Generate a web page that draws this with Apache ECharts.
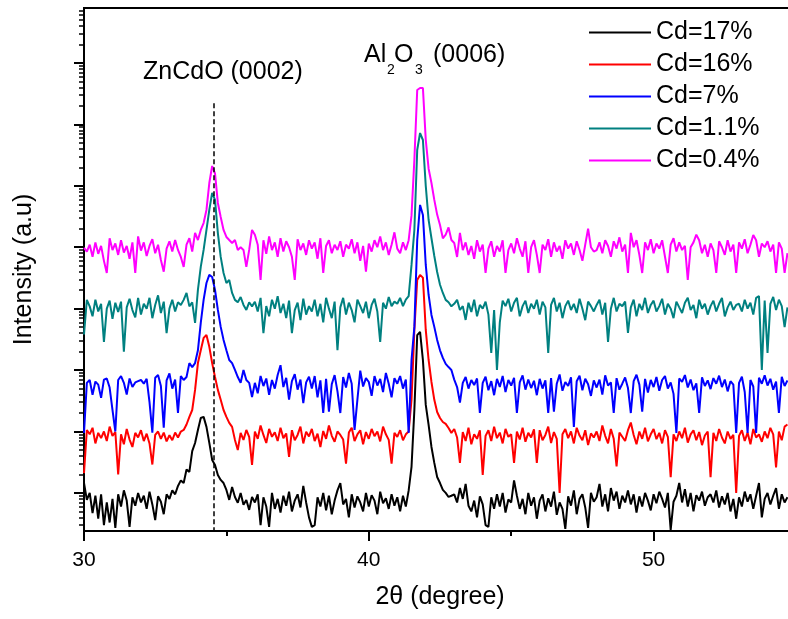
<!DOCTYPE html>
<html>
<head>
<meta charset="utf-8">
<script src="https://cdn.jsdelivr.net/npm/echarts@6/dist/echarts.min.js"></script>
<style>html,body{margin:0;padding:0;background:#fff}#chart{width:788px;height:619px}</style>
</head>
<body>
<div id="chart"></div>
<script>
// 2-theta sampling: 30.0 .. 54.7 deg, step 0.1 deg
const thetaStart = 30.0;
const thetaStep = 0.1;

const seriesNames = ['Cd=17%', 'Cd=16%', 'Cd=7%', 'Cd=1.1%', 'Cd=0.4%'];
const seriesColors = ['#000000', '#ff0000', '#0000ff', '#008080', '#ff00ff'];

// Intensity (a.u.), one row per degree
const cd17 = [
  145, 77, 100, 47, 90, 38, 95, 30, 70, 33,
  80, 27, 95, 60, 110, 75, 28, 85, 62, 100,
  70, 90, 55, 105, 65, 36, 88, 72, 45, 95,
  80, 110, 95, 130, 160, 145, 240, 220, 480, 650,
  1060, 1660, 1730, 1190, 652, 345, 286, 196, 163, 145,
  112, 77, 125, 86, 69, 100, 64, 77, 53, 86,
  70, 95, 30, 85, 60, 28, 100, 55, 80, 48,
  90, 62, 105, 50, 75, 95, 58, 130, 70, 40,
  28, 30, 85, 60, 100, 52, 90, 45, 75, 110,
  145, 65, 80, 40, 95, 58, 88, 70, 50, 100,
  60, 92, 75, 45, 105, 68, 82, 55, 95, 62,
  85, 50, 90, 60, 110, 265, 2240, 37000, 41800, 14600,
  2710, 1280, 560, 308, 182, 145, 112, 100, 86, 90,
  95, 70, 120, 80, 140, 62, 50, 75, 40, 88,
  65, 30, 28, 85, 55, 95, 60, 100, 48, 78,
  70, 160, 90, 55, 80, 45, 100, 62, 85, 38,
  75, 95, 50, 82, 60, 105, 44, 70, 55, 26,
  88, 62, 110, 45, 80, 95, 58, 27, 100, 72,
  85, 140, 60, 95, 50, 120, 75, 105, 55, 90,
  70, 110, 65, 95, 48, 88, 60, 100, 75, 52,
  95, 68, 105, 80, 58, 100, 25, 72, 90, 145,
  70, 115, 60, 100, 50, 92, 75, 105, 62, 85,
  95, 70, 110, 58, 88, 65, 100, 50, 80, 38,
  85, 60, 105, 72, 95, 55, 90, 145, 40, 80,
  100, 65, 90, 120, 55, 95, 70, 85
];

const cd16 = [
  210, 1060, 900, 1150, 640, 950, 780, 1000, 700, 1200,
  850, 980, 200, 900, 620, 1100, 740, 560, 950, 800,
  1050, 700, 920, 640, 290, 880, 1000, 760, 960, 690,
  870, 720, 960, 800, 1000, 1060, 1300, 1730, 2240, 4760,
  13000, 21000, 33400, 37300, 23900, 13000, 7700, 4760, 3280, 2240,
  1730, 1380, 1190, 730, 500, 950, 730, 1060, 815, 286,
  1000, 760, 1250, 880, 650, 1100, 820, 970, 700, 1150,
  780, 930, 385, 1050, 720, 880, 1200, 640, 990, 830,
  1100, 700, 920, 560, 1020, 760, 1250, 850, 680, 1000,
  880, 740, 300, 960, 1150, 700, 900, 1050, 620, 980,
  760, 1100, 840, 1000, 690, 1200, 900, 730, 300, 950,
  820, 1050, 720, 900, 1000, 3300, 45000, 293000, 354000, 320000,
  45000, 14600, 6400, 3280, 2080, 1660, 1430, 1330, 1140, 950,
  1100, 800, 308, 980, 700, 1150, 620, 900, 760, 1050,
  196, 850, 1050, 700, 1200, 780, 960, 640, 1100, 820,
  900, 308, 1000, 740, 1150, 680, 950, 800, 1080, 308,
  1050, 720, 880, 1200, 650, 980, 760, 100, 900, 1100,
  780, 1000, 640, 1150, 860, 720, 1050, 600, 930, 800,
  1000, 700, 1250, 850, 640, 1100, 760, 270, 960, 820,
  700, 1050, 1400, 880, 620, 1000, 760, 1150, 690, 900,
  1100, 750, 950, 640, 1050, 820, 180, 900, 700, 1000,
  780, 1150, 660, 900, 1050, 720, 980, 600, 860, 1000,
  180, 950, 700, 1100, 800, 640, 1000, 760, 880, 100,
  850, 1050, 700, 960, 620, 1100, 800, 900, 680, 1000,
  780, 1150, 900, 260, 1000, 720, 1200, 1300
];

const cd7 = [
  950, 6200, 6900, 3950, 6500, 5800, 3530, 7000, 7300, 5200,
  2240, 1000, 6900, 8000, 6200, 4000, 7300, 5300, 6300, 6600,
  6900, 6000, 7200, 3000, 960, 7500, 8300, 5500, 1150, 6800,
  8800, 5000, 7000, 2000, 8000, 6900, 7700, 13000, 11200, 13000,
  21000, 58500, 139000, 262000, 354000, 328000, 202000, 95300, 50500, 31000,
  21000, 14600, 13000, 10050, 7700, 6200, 10050, 6900, 6200, 3650,
  6200, 4200, 8000, 5500, 7300, 3950, 6900, 5000, 8300, 12000,
  5300, 7500, 3300, 6600, 8600, 4800, 7000, 2900, 6300, 7800,
  5000, 8000, 3600, 6800, 2000, 7200, 2100, 5900, 8300, 4500,
  2000, 7700, 5200, 9000, 6000, 1060, 3300, 9800, 5400, 7400,
  6400, 3800, 8000, 5600, 7200, 4400, 9000, 6000, 3600, 7400,
  6000, 8000, 5000, 7000, 950, 14600, 50500, 1310000, 4880000, 3360000,
  515000, 167000, 79000, 50500, 31000, 21000, 15800, 12600, 11200, 10050,
  7000, 5300, 2950, 6200, 7700, 5000, 6900, 5700, 7300, 2000,
  6200, 7800, 4700, 6600, 3900, 7200, 5300, 8000, 4400, 6900,
  5600, 7500, 2000, 6300, 8200, 4800, 7000, 5100, 6700, 3900,
  7200, 5000, 6800, 2000, 7400, 2100, 6000, 8500, 4600, 6400,
  5500, 7600, 1190, 6600, 8100, 4700, 7200, 5900, 3800, 6800,
  5200, 7000, 4000, 8200, 5600, 6300, 2000, 7400, 4800, 6000,
  7600, 5100, 2000, 6600, 8400, 5800, 2100, 7200, 4300, 6900,
  5300, 7700, 4600, 6900, 8000, 5000, 6300, 4100, 950, 7300,
  6400, 8300, 5200, 7000, 4700, 6100, 2000, 7600, 5500, 6800,
  4900, 7400, 6000, 8100, 5300, 7000, 4500, 6600, 5800, 950,
  6200, 7800, 4400, 950, 6900, 5400, 950, 7500, 6000, 8200,
  5600, 7200, 4800, 6500, 2000, 7800, 5500, 6800
];

const cd1p1 = [
  3.8e4, 1.39e5, 1.09e5, 7.5e4, 1.4e5, 9.0e4, 1.2e5, 2.87e4, 1.0e5, 1.35e5,
  6.8e4, 1.25e5, 8.8e4, 1.3e5, 2.0e4, 1.05e5, 1.45e5, 9.5e4, 7.2e4, 1.5e5,
  8.0e4, 1.2e5, 1.0e5, 1.5e5, 7.0e4, 1.15e5, 1.65e5, 8.5e4, 1.3e5, 4.0e4,
  1.0e5, 1.4e5, 9.0e4, 1.27e5, 1.15e5, 1.39e5, 1.8e5, 1.09e5, 1.27e5, 5.85e4,
  2.02e5, 4.78e5, 9.03e5, 1.91e6, 4.05e6, 7.65e6, 5.89e6, 1.7e6, 6.95e5, 3.81e5,
  2.62e5, 2.93e5, 1.8e5, 1.39e5, 1.27e5, 1.55e5, 1.15e5, 9.53e4, 1.27e5, 1.09e5,
  1.3e5, 9.0e4, 1.5e5, 4.0e4, 1.1e5, 7.5e4, 1.4e5, 1.0e5, 1.6e5, 8.5e4,
  1.2e5, 7.0e4, 1.35e5, 4.0e4, 9.5e4, 1.25e5, 6.5e4, 1.45e5, 8.0e4, 1.1e5,
  9.0e4, 1.4e5, 7.5e4, 1.2e5, 6.0e4, 1.5e5, 1.0e5, 7.0e4, 1.3e5, 2.1e4,
  1.05e5, 1.5e5, 8.0e4, 1.25e5, 9.5e4, 6.0e4, 1.4e5, 1.1e5, 8.5e4, 1.3e5,
  7.0e4, 1.15e5, 1.45e5, 9.0e4, 2.87e4, 1.25e5, 1.0e5, 1.55e5, 1.1e5, 1.3e5,
  1.2e5, 1.5e5, 1.1e5, 1.4e5, 1.6e5, 5.15e5, 1.91e6, 3.83e7, 7.24e7, 5.57e7,
  1.0e7, 2.78e6, 1.4e6, 7.2e5, 3.95e5, 2.45e5, 1.8e5, 1.39e5, 1.27e5, 1.09e5,
  1.2e5, 1.39e5, 9.5e4, 1.1e5, 6.55e4, 1.25e5, 8.8e4, 1.4e5, 7.5e4, 1.15e5,
  1.0e5, 1.3e5, 8.0e4, 1.9e4, 9.5e4, 1.005e4, 6.0e4, 1.35e5, 1.1e5, 1.45e5,
  9.0e4, 1.25e5, 1.5e5, 7.5e4, 1.1e5, 1.35e5, 8.5e4, 1.2e5, 1.0e5, 1.4e5,
  8.0e4, 1.3e5, 1.05e5, 1.9e4, 1.15e5, 1.5e5, 9.0e4, 1.25e5, 7.0e4, 1.1e5,
  1.35e5, 9.5e4, 1.2e5, 8.5e4, 1.45e5, 1.0e5, 6.5e4, 1.3e5, 1.1e5, 9.0e4,
  1.15e5, 1.4e5, 8.0e4, 1.25e5, 2.87e4, 1.0e5, 1.5e5, 9.0e4, 1.2e5, 1.1e5,
  1.3e5, 4.02e4, 1.05e5, 1.4e5, 7.5e4, 1.2e5, 9.5e4, 1.5e5, 8.5e4, 1.15e5,
  1.35e5, 9.0e4, 1.1e5, 1.45e5, 8.0e4, 1.2e5, 1.0e5, 7.0e4, 1.3e5, 1.05e5,
  8.5e4, 1.25e5, 1.5e5, 9.5e4, 1.15e5, 7.0e4, 1.4e5, 1.0e5, 1.2e5, 8.0e4,
  1.1e5, 1.35e5, 9.0e4, 1.2e5, 1.5e5, 7.5e4, 1.05e5, 1.3e5, 9.5e4, 1.15e5,
  1.2e5, 9.0e4, 1.4e5, 1.0e5, 1.25e5, 8.0e4, 1.5e5, 1.6e5, 1.005e4, 1.35e5,
  1.9e4, 1.2e5, 1.55e5, 9.5e4, 1.4e5, 1.1e5, 5.0e4, 1.05e5
];

const cd0p4 = [
  9.75e5, 8.5e5, 1.1e6, 7.0e5, 1.2e6, 7.8e5, 1.05e6, 6.0e5, 3.81e5, 1.4e6,
  9.0e5, 1.15e6, 7.5e5, 1.3e6, 8.2e5, 1.05e6, 6.5e5, 1.2e6, 3.81e5, 1.5e6,
  8.8e5, 1.2e6, 7.2e5, 1.05e6, 1.35e6, 8.0e5, 1.1e6, 6.2e5, 4.0e5, 9.5e5,
  1.25e6, 8.5e5, 1.31e6, 9.03e5, 6.95e5, 4.78e5, 1.1e6, 1.4e6, 8.5e5, 1.71e6,
  1.31e6, 1.91e6, 2.48e6, 4.05e6, 1.11e7, 2.1e7, 1.6e7, 5.26e6, 3.11e6, 1.91e6,
  1.47e6, 1.31e6, 1.17e6, 1.31e6, 9.03e5, 1.0e6, 9.03e5, 4.78e5, 9.03e5, 1.91e6,
  1.6e6, 1.1e6, 2.93e5, 1.3e6, 7.8e5, 1.5e6, 9.0e5, 1.2e6, 7.0e5, 1.4e6,
  8.5e5, 1.25e6, 1.0e6, 7.0e5, 2.93e5, 1.35e6, 9.0e5, 1.15e6, 7.5e5, 1.3e6,
  9.5e5, 1.2e6, 6.5e5, 1.4e6, 3.81e5, 1.05e6, 1.3e6, 8.0e5, 1.1e6, 9.0e5,
  1.25e6, 7.0e5, 1.1e6, 9.5e5, 1.35e6, 8.0e5, 1.2e6, 6.0e5, 1.05e6, 4.0e5,
  1.15e6, 8.5e5, 1.3e6, 1.0e6, 1.5e6, 9.0e5, 1.2e6, 7.5e5, 1.1e6, 1.75e6,
  9.5e5, 8.0e5, 1.2e6, 9.0e5, 1.3e6, 3.3e6, 2.64e7, 3.63e8, 3.92e8, 3.92e8,
  5.6e7, 1.9e7, 1.11e7, 5.9e6, 3.4e6, 2.3e6, 1.4e6, 1.6e6, 2.1e6, 1.31e6,
  1.17e6, 6.95e5, 1.71e6, 9.0e5, 1.2e6, 7.5e5, 1.05e6, 6.5e5, 1.3e6, 8.5e5,
  1.1e6, 3.81e5, 9.5e5, 1.25e6, 7.0e5, 1.05e6, 8.5e5, 1.3e6, 3.81e5, 9.0e5,
  1.15e6, 8.0e5, 1.4e6, 9.5e5, 7.0e5, 1.25e6, 3.81e5, 1.0e6, 1.3e6, 7.5e5,
  3.81e5, 1.1e6, 9.0e5, 1.35e6, 7.0e5, 1.2e6, 8.5e5, 1.05e6, 6.5e5, 1.3e6,
  9.5e5, 1.15e6, 7.5e5, 1.25e6, 9.0e5, 6.0e5, 1.1e6, 2.0e6, 1.0e6, 8.5e5,
  9.0e5, 1.2e6, 8.0e5, 1.3e6, 1.05e6, 7.0e5, 1.25e6, 9.5e5, 1.45e6, 8.5e5,
  1.1e6, 3.81e5, 1.71e6, 1.0e6, 1.3e6, 7.5e5, 3.81e5, 1.2e6, 9.0e5, 1.35e6,
  8.0e5, 1.15e6, 9.5e5, 1.3e6, 7.0e5, 3.81e5, 1.1e6, 1.4e6, 8.5e5, 1.2e6,
  9.0e5, 1.05e6, 2.93e5, 1.0e6, 1.2e6, 1.6e6, 1.3e6, 8.0e5, 1.1e6, 7.0e5,
  1.15e6, 9.0e5, 3.81e5, 1.25e6, 1.0e6, 7.5e5, 1.3e6, 8.5e5, 1.1e6, 3.81e5,
  1.2e6, 9.5e5, 1.35e6, 8.0e5, 1.1e6, 1.58e6, 1.3e6, 7.0e5, 1.15e6, 1.0e6,
  1.25e6, 8.5e5, 1.1e6, 3.81e5, 1.2e6, 9.5e5, 3.81e5, 8.0e5
];

// Axes
const xMin = 30, xMax = 55;
const xTickLabels = [30, 40, 50];
const xMinorTicks = [35, 45];
const yMin = 24, yMax = 7.85e9;
const yMajorTicks = [1e2, 1e3, 1e4, 1e5, 1e6, 1e7, 1e8, 1e9];
const yMinorMantissas = [2, 3, 4, 5, 6, 7, 8, 9];
const yMinorDecades = [1e1, 1e2, 1e3, 1e4, 1e5, 1e6, 1e7, 1e8, 1e9];

// ZnCdO (0002) reference line
const zncdoAngle = 34.56;
const zncdoLineTop = 2.2e8;

const xTitle = '2\u03b8 (degree)';
const yTitle = 'Intensity (a.u)';

// ---- build ----
const seriesValues = [cd17, cd16, cd7, cd1p1, cd0p4];
const theta = cd17.map((_, i) => +(thetaStart + i * thetaStep).toFixed(1));
const yMinorTicks = [];
yMinorDecades.forEach(d => yMinorMantissas.forEach(m => {
  const v = m * d;
  if (v >= yMin && v <= yMax) yMinorTicks.push(v);
}));

const FONT = 'Liberation Sans, Arial, sans-serif';

const series = seriesValues.map((vals, k) => {
  const s = {
    name: seriesNames[k],
    type: 'line',
    xAxisIndex: 0,
    yAxisIndex: 0,
    data: vals.map((v, i) => [theta[i], v]),
    showSymbol: false,
    symbol: 'none',
    lineStyle: { color: seriesColors[k], width: 2 },
    itemStyle: { color: seriesColors[k] },
    animation: false,
    z: 2 + k
  };
  if (k === 0) {
    s.markLine = {
      silent: true,
      symbol: ['none', 'none'],
      label: { show: false },
      lineStyle: { color: '#000', type: [5, 3], width: 1.5 },
      data: [[{ coord: [zncdoAngle, zncdoLineTop] }, { coord: [zncdoAngle, yMin] }]],
      z: 10
    };
  }
  return s;
});

const chart = echarts.init(document.getElementById('chart'), null, { renderer: 'canvas' });
chart.setOption({
  animation: false,
  backgroundColor: '#ffffff',
  textStyle: { fontFamily: FONT },
  grid: {
    left: 84, right: -8, top: 8, bottom: 88,
    show: true, borderColor: '#000', borderWidth: 2,
    containLabel: false, outerBoundsMode: 'none'
  },
  legend: {
    data: seriesNames,
    orient: 'vertical',
    left: 584, top: 15,
    itemWidth: 62, itemHeight: 2, itemGap: 7,
    icon: 'rect',
    textStyle: { fontSize: 25, color: '#000', fontFamily: FONT },
    selectedMode: false
  },
  xAxis: [
    {
      type: 'value', min: xMin, max: xMax, position: 'bottom',
      name: xTitle, nameLocation: 'middle', nameGap: 54, nameMoveOverlap: false,
      nameTextStyle: { fontSize: 25, color: '#000', fontFamily: FONT },
      axisLine: { show: true, lineStyle: { color: '#000', width: 2 } },
      axisTick: { show: true, inside: false, length: 10, lineStyle: { color: '#000', width: 2 }, customValues: xTickLabels },
      axisLabel: { show: true, fontSize: 21, color: '#000', margin: 19, fontFamily: FONT, customValues: xTickLabels },
      splitLine: { show: false }
    },
    {
      type: 'value', min: xMin, max: xMax, position: 'bottom',
      axisLine: { show: false },
      axisTick: { show: true, inside: false, length: 5, lineStyle: { color: '#000', width: 2 }, customValues: xMinorTicks },
      axisLabel: { show: false },
      splitLine: { show: false }
    }
  ],
  yAxis: [
    {
      type: 'log', logBase: 10, min: yMin, max: yMax, position: 'left',
      name: yTitle, nameLocation: 'middle', nameGap: 47, nameMoveOverlap: false,
      nameTextStyle: { fontSize: 25, color: '#000', fontFamily: FONT },
      axisLine: { show: true, lineStyle: { color: '#000', width: 2 } },
      axisTick: { show: true, inside: false, length: 10, lineStyle: { color: '#000', width: 2 }, customValues: yMajorTicks },
      axisLabel: { show: false },
      splitLine: { show: false }
    },
    {
      type: 'log', logBase: 10, min: yMin, max: yMax, position: 'left',
      axisLine: { show: false },
      axisTick: { show: true, inside: false, length: 5, lineStyle: { color: '#000', width: 1.5 }, customValues: yMinorTicks },
      axisLabel: { show: false },
      splitLine: { show: false }
    }
  ],
  graphic: [
    { type: 'text', x: 143, y: 72, style: { text: 'ZnCdO (0002)', fontSize: 25, fontFamily: FONT, fill: '#000', align: 'left', verticalAlign: 'middle' } },
    { type: 'text', x: 364, y: 55, style: { text: 'Al', fontSize: 25, fontFamily: FONT, fill: '#000', align: 'left', verticalAlign: 'middle' } },
    { type: 'text', x: 387, y: 70, style: { text: '2', fontSize: 14, fontFamily: FONT, fill: '#000', align: 'left', verticalAlign: 'middle' } },
    { type: 'text', x: 394, y: 55, style: { text: 'O', fontSize: 25, fontFamily: FONT, fill: '#000', align: 'left', verticalAlign: 'middle' } },
    { type: 'text', x: 415, y: 70, style: { text: '3', fontSize: 14, fontFamily: FONT, fill: '#000', align: 'left', verticalAlign: 'middle' } },
    { type: 'text', x: 433, y: 55, style: { text: '(0006)', fontSize: 25, fontFamily: FONT, fill: '#000', align: 'left', verticalAlign: 'middle' } }
  ],
  series: series
});
</script>
</body>
</html>
